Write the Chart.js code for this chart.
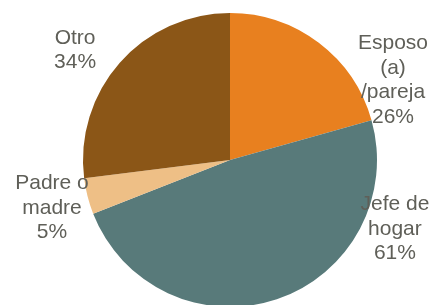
<!DOCTYPE html>
<html>
<head>
<meta charset="utf-8">
<script src="https://cdn.jsdelivr.net/npm/chart.js@4"></script>
<style>
    html, body { margin: 0; padding: 0; background: #fff; }
    #wrap { width: 432px; height: 305px; overflow: hidden; position: relative; }
    #wrap canvas { position: absolute; left: 0; top: 0; }
</style>
</head>
<body>
<div id="wrap"><canvas id="pieChart" width="432" height="310"></canvas></div>
<script>
const categories = [['Esposo', '(a)', '/pareja'], ['Jefe de', 'hogar'], ['Padre o', 'madre'], ['Otro']];
const values = [26, 61, 5, 34];
const colors = ['#E8801F', '#587A7A', '#EEBF86', '#8B5617'];
// label block centres, relative to pie centre, in units of the radius
const labelPos = [[1.109, -0.544], [1.122, 0.469], [-1.211, 0.327], [-1.054, -0.748]];

const pieLabels = {
    id: 'pieLabels',
    afterDatasetsDraw(chart) {
        const ctx = chart.ctx;
        const arcs = chart.getDatasetMeta(0).data;
        ctx.save();
        ctx.font = '21px "Liberation Sans", Arial, sans-serif';
        ctx.fillStyle = '#5f5f58';
        ctx.textAlign = 'center';
        ctx.textBaseline = 'middle';
        const lineH = 24.5;
        arcs.forEach(function(arc, i) {
            const lines = categories[i].concat([values[i] + '%']);
            const cx = arc.x + labelPos[i][0] * arc.outerRadius;
            const cy = arc.y + labelPos[i][1] * arc.outerRadius;
            const top = cy - (lines.length - 1) * lineH / 2;
            lines.forEach(function(t, k) {
                ctx.fillText(t, cx, top + k * lineH);
            });
        });
        ctx.restore();
    }
};

const ctx = document.getElementById('pieChart').getContext('2d');
new Chart(ctx, {
    type: 'pie',
    data: {
        labels: categories.map(c => c.join(' ')),
        datasets: [{
            data: values,
            backgroundColor: colors,
            borderWidth: 0
        }]
    },
    options: {
        responsive: false,
        animation: false,
        layout: { padding: { top: 13, bottom: 3, left: 28, right: 0 } },
        plugins: {
            legend: { display: false },
            tooltip: { enabled: false }
        }
    },
    plugins: [pieLabels]
});
</script>
</body>
</html>
